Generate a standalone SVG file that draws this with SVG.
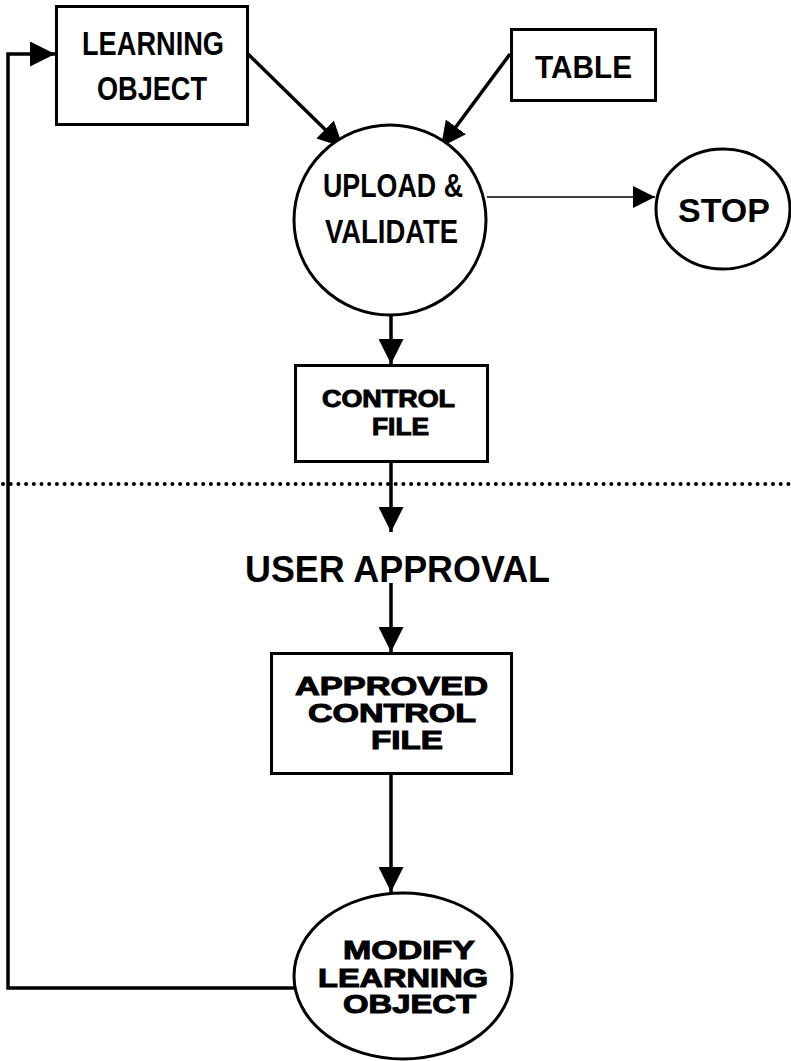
<svg xmlns="http://www.w3.org/2000/svg" width="791" height="1061" viewBox="0 0 791 1061">
<style>
.shape{fill:#fff;stroke:#000;stroke-width:3}
.line{fill:none;stroke:#000;stroke-width:3.5}
.thin{fill:none;stroke:#000;stroke-width:1.6}
.t{font-family:"Liberation Sans",Arial,sans-serif;font-weight:bold;fill:#000}
.x{stroke:#000;stroke-width:1}
</style>
<defs>
<marker id="ah" viewBox="0 0 25 25" refX="25" refY="12.5" markerWidth="25" markerHeight="25" markerUnits="userSpaceOnUse" orient="auto">
<path d="M0,0 L25,12.5 L0,25 Z" fill="#000"/>
</marker>
<marker id="ahs" viewBox="0 0 22 22" refX="22" refY="11" markerWidth="22" markerHeight="22" markerUnits="userSpaceOnUse" orient="auto">
<path d="M0,0 L22,11 L0,22 Z" fill="#000"/>
</marker>
</defs>
<rect width="791" height="1061" fill="#fff"/>
<g id="connectors">
<path class="line" d="M248,54 L343,147" marker-end="url(#ah)"/>
<path class="line" d="M510,54 L441,147" marker-end="url(#ah)"/>
<path class="thin" d="M487,197 L655,197" marker-end="url(#ahs)"/>
<path class="line" d="M391,316 L391,364" marker-end="url(#ah)"/>
<path class="line" d="M391,462 L391,532" marker-end="url(#ah)"/>
<path class="line" d="M391,583 L391,652" marker-end="url(#ah)"/>
<path class="line" d="M391,774 L391,892" marker-end="url(#ah)"/>
<path class="line" d="M294,988 L8,988 L8,54 L55,54" marker-end="url(#ah)"/>
<line x1="3" y1="484" x2="791" y2="484" stroke="#000" stroke-width="4" stroke-linecap="round" stroke-dasharray="0 7.7"/>
</g>
<g id="learning-object">
<rect class="shape" x="56.5" y="6.5" width="191" height="118"/>
<text class="t" x="82" y="55" font-size="34" textLength="142" lengthAdjust="spacingAndGlyphs">LEARNING</text>
<text class="t" x="97" y="100" font-size="34" textLength="110" lengthAdjust="spacingAndGlyphs">OBJECT</text>
</g>
<g id="table">
<rect class="shape" x="511.5" y="29.5" width="144" height="71"/>
<text class="t" x="535" y="78" font-size="32" textLength="97" lengthAdjust="spacingAndGlyphs">TABLE</text>
</g>
<g id="upload-validate">
<ellipse class="shape" cx="390" cy="220" rx="96" ry="95"/>
<text class="t" x="323" y="197" font-size="34" textLength="140" lengthAdjust="spacingAndGlyphs">UPLOAD &amp;</text>
<text class="t" x="325" y="243" font-size="34" textLength="133" lengthAdjust="spacingAndGlyphs">VALIDATE</text>
</g>
<g id="stop">
<ellipse class="shape" cx="723" cy="209" rx="67" ry="60"/>
<text class="t" x="678" y="222" font-size="34" textLength="92" lengthAdjust="spacingAndGlyphs">STOP</text>
</g>
<g id="control-file">
<rect class="shape" x="295.5" y="365.5" width="192" height="96"/>
<text class="t x" x="322" y="407" font-size="24" textLength="133" lengthAdjust="spacingAndGlyphs">CONTROL</text>
<text class="t x" x="372" y="435" font-size="24" textLength="57" lengthAdjust="spacingAndGlyphs">FILE</text>
</g>
<g id="user-approval">
<text class="t" x="245" y="582" font-size="37" textLength="305" lengthAdjust="spacingAndGlyphs">USER APPROVAL</text>
</g>
<g id="approved-control-file">
<rect class="shape" x="271.5" y="653.5" width="240" height="120"/>
<text class="t x" x="295" y="695" font-size="25" textLength="193" lengthAdjust="spacingAndGlyphs">APPROVED</text>
<text class="t x" x="308" y="722" font-size="25" textLength="168" lengthAdjust="spacingAndGlyphs">CONTROL</text>
<text class="t x" x="371" y="749" font-size="25" textLength="72" lengthAdjust="spacingAndGlyphs">FILE</text>
</g>
<g id="modify-learning-object">
<ellipse class="shape" cx="403" cy="976" rx="109" ry="83"/>
<text class="t x" x="343" y="959" font-size="25" textLength="132" lengthAdjust="spacingAndGlyphs">MODIFY</text>
<text class="t x" x="318" y="987" font-size="25" textLength="170" lengthAdjust="spacingAndGlyphs">LEARNING</text>
<text class="t x" x="343" y="1013" font-size="25" textLength="133" lengthAdjust="spacingAndGlyphs">OBJECT</text>
</g>
</svg>
